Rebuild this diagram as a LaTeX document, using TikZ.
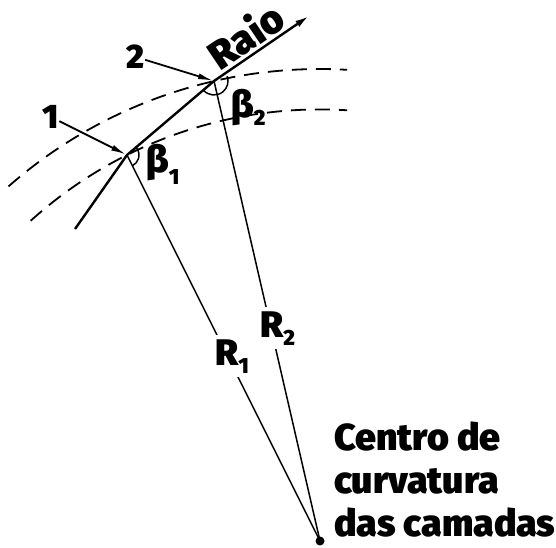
\documentclass[tikz,border=0pt]{standalone}
\usepackage{fontspec}
\setmainfont{Fira Sans Black}
\usetikzlibrary{arrows.meta,calc}
\newcommand\lowsub[2]{\raisebox{#1}{\fontsize{22}{22}\selectfont #2}}
\begin{document}
\begin{tikzpicture}[x=1pt,y=-1pt,
  lbl/.style={font=\fontsize{34}{34}\selectfont, inner sep=0pt},
  biglbl/.style={font=\fontsize{37}{37}\selectfont, inner sep=0pt},
  cut/.style={biglbl, fill=white, inner sep=4pt},
  rayline/.style={line width=2.4pt, line join=round, -{Latex[length=14pt,width=7pt]}},
  radius line/.style={line width=1.5pt},
  pointer/.style={line width=1.8pt, -{Latex[length=15pt,width=6pt]}, shorten >=1pt},
  layer/.style={line width=1.8pt, dash pattern=on 15pt off 9pt},
  anglemark/.style={line width=1.5pt}]
\useasboundingbox (0,0) rectangle (556,547);
% points
\coordinate (A) at (75,229);
\coordinate (P1) at (127,155);
\coordinate (P2) at (214,81);
\coordinate (T) at (309,16);
\coordinate (C) at (320,541);
% layer boundaries (arcs centred on C)
\draw[layer] plot[domain=-132.1:-86.4, samples=80] ({320+431.6*cos(\x)},{541+431.6*sin(\x)});
\draw[layer] plot[domain=-131.3:-86.7, samples=80] ({320+472*cos(\x)},{541+472*sin(\x)});
% radii
\draw[radius line] (P1) -- (C);
\draw[radius line] (P2) -- (C);
\fill (C) circle (4.5);
% angle marks
\draw[anglemark] ($(P1)+(-40:12)$) arc[start angle=-40, end angle=63, radius=12];
\draw[anglemark] ($(P2)+(140:14)$) arc[start angle=140, end angle=-20, radius=14];
% ray
\draw[rayline] (A) -- (P1) -- (P2) -- (T);
% labels
\node[lbl] (n1) at (51,117) {1};
\node[lbl] (n2) at (136,57) {2};
\draw[pointer] (n1) -- (P1);
\draw[pointer] (n2) -- (P2);
\node[font=\fontsize{40}{40}\selectfont, inner sep=0pt, rotate=34] (raio) at (245,35) {Raio};
\node[biglbl, anchor=base west] (b1) at (146,172) {β\lowsub{-12pt}{1}};
\node[biglbl, anchor=base west] (b2) at (231,117) {β\lowsub{-8pt}{2}};
\node[cut, anchor=base west] (r1) at (211,365) {R\lowsub{-8pt}{1}};
\node[cut, anchor=base west] (r2) at (256,337) {R\lowsub{-8pt}{2}};
\node[inner sep=0pt, anchor=north west, align=left, font=\fontsize{37.5}{43}\selectfont] (ctr) at (334,422) {Centro de\\curvatura\\das camadas};
\end{tikzpicture}
\end{document}
